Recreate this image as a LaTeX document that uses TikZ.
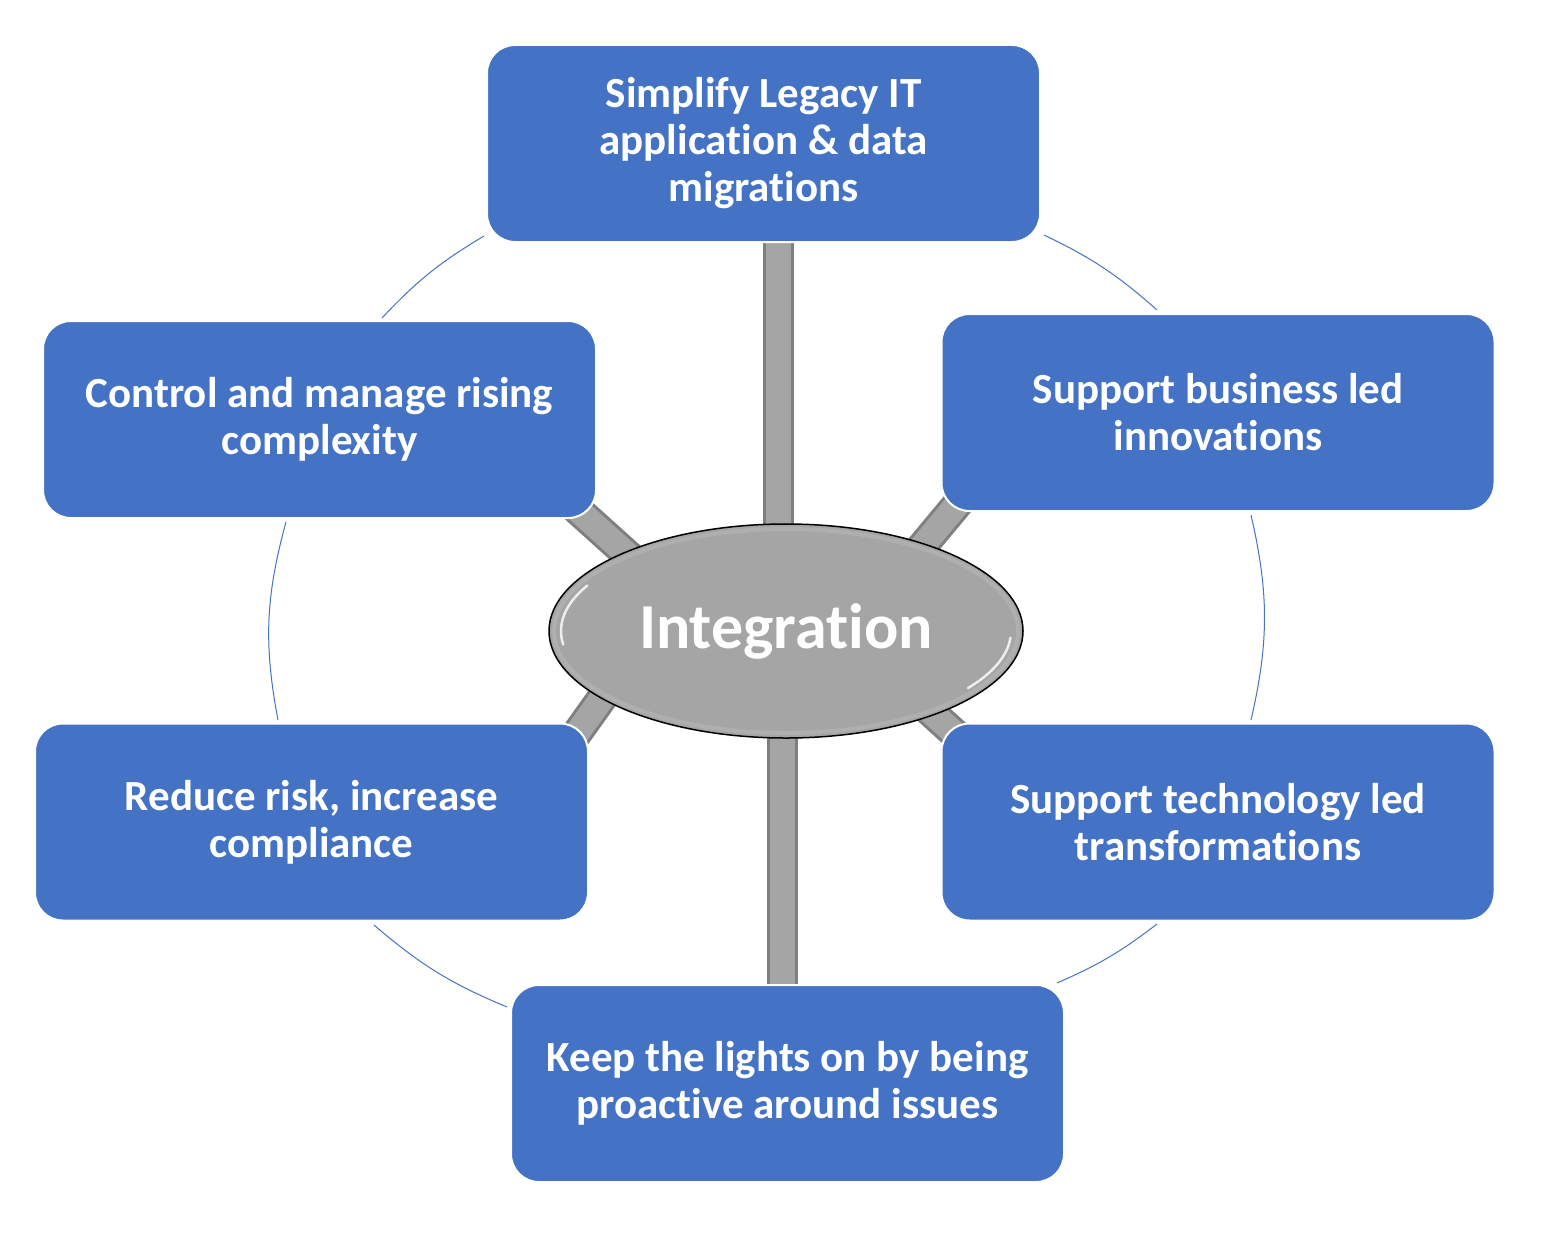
\documentclass[tikz,border=0pt]{standalone}
\usepackage{fontspec}
\setmainfont{Carlito}[Ligatures={NoCommon,NoContextual}]
\usetikzlibrary{shapes.geometric,backgrounds}
\definecolor{boxblue}{HTML}{4472C4}
\definecolor{barfill}{HTML}{A5A5A5}
\definecolor{baredge}{HTML}{7F7F7F}
\newcommand{\nolig}{\kern0pt\relax}
\begin{document}
\begin{tikzpicture}[x=1pt,y=-1pt,
  goal/.style={rectangle, rounded corners=28pt, fill=boxblue, draw=white, line width=2pt,
    minimum width=553pt, minimum height=197pt, text=white, align=center,
    font=\fontsize{43}{47}\selectfont\bfseries, inner sep=0pt},
  hubstyle/.style={ellipse, fill=barfill, draw=black, line width=1.5pt,
    minimum width=474pt, minimum height=214pt, inner sep=0pt, text=white,
    font=\fontsize{64}{70}\selectfont\bfseries},
  bar/.style={draw=baredge, line width=3pt, double=barfill, double distance=25pt},
  ring/.style={draw=boxblue, line width=1pt},
  shine/.style={draw=white, line width=2.5pt, line cap=round, opacity=0.8}]
\useasboundingbox (0,0) rectangle (1568,1236);

% goal boxes
\node[goal] (top) at (763.5,143.5) {Simplify Legacy IT\\application \& data\\migrat\nolig ions};
\node[goal] (ru)  at (1218,412.5) {Support business led\\innovat\nolig ions};
\node[goal] (rl)  at (1218,822)   {Support technology led\\transformat\nolig ions};
\node[goal] (bot) at (787.5,1083.5) {Keep the lights on by being\\proact\nolig ive around issues};
\node[goal] (ll)  at (311.5,822)  {Reduce risk, increase\\compliance};
\node[goal] (lu)  at (319.5,419.5) {Control and manage rising\\complexity};

% hub
\node[hubstyle] (hub) at (786,631) {};
\draw[white, line width=4pt, opacity=0.12] (hub.center) ellipse[x radius=232, y radius=102];
\draw[shine] ([shift={(172:225 and 97)}]hub.center) arc[start angle=172,end angle=208,x radius=225,y radius=97];
\draw[shine] ([shift={(4:225 and 97)}]hub.center) arc[start angle=4,end angle=36,x radius=225,y radius=97];
\node[text=white, font=\fontsize{64}{70}\selectfont\bfseries] (hubtext) at (786,631) {Integrat\nolig ion};

% bar end points
\coordinate (b1a) at (778.5,230);  \coordinate (b1b) at (778.5,560);
\coordinate (b2a) at (970,489);    \coordinate (b2b) at (900,573);
\coordinate (b3a) at (985,761);    \coordinate (b3b) at (900,684);
\coordinate (b4a) at (782,1000);   \coordinate (b4b) at (782,700);
\coordinate (b5a) at (560,757);    \coordinate (b5b) at (625,666);
\coordinate (b6a) at (560,494);    \coordinate (b6b) at (660,584);

% ring end points
\coordinate (r1a) at (1044,235);  \coordinate (r1b) at (1157,310);
\coordinate (r2a) at (1251,515);  \coordinate (r2b) at (1251,720);
\coordinate (r3a) at (1157,924);  \coordinate (r3b) at (1057,983);
\coordinate (r4a) at (507,1007);  \coordinate (r4b) at (374,925);
\coordinate (r5a) at (278,720);   \coordinate (r5b) at (286,522);
\coordinate (r6a) at (382,318);   \coordinate (r6b) at (484,236);

\begin{pgfonlayer}{background}
  \draw[bar] (b1a) -- (b1b);
  \draw[bar] (b2a) -- (b2b);
  \draw[bar] (b3a) -- (b3b);
  \draw[bar] (b4a) -- (b4b);
  \draw[bar] (b5a) -- (b5b);
  \draw[bar] (b6a) -- (b6b);
  \draw[ring] (r1a) to[bend left=8] (r1b);
  \draw[ring] (r2a) to[bend left=13] (r2b);
  \draw[ring] (r3a) to[bend left=7] (r3b);
  \draw[ring] (r4a) to[bend left=9] (r4b);
  \draw[ring] (r5a) to[bend left=13] (r5b);
  \draw[ring] (r6a) to[bend left=8] (r6b);
\end{pgfonlayer}
\end{tikzpicture}
\end{document}
